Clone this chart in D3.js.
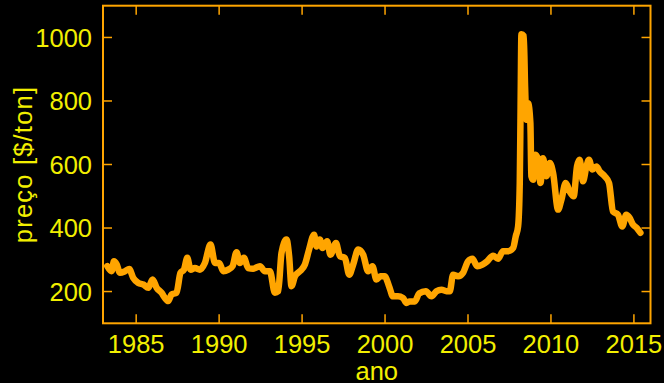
<!DOCTYPE html>
<html>
<head>
<meta charset="utf-8">
<script src="https://cdn.jsdelivr.net/npm/d3@7"></script>
<style>
html,body{margin:0;padding:0;background:#000;}
svg{display:block;}
text{font-family:"Liberation Sans",Arial,sans-serif;}
</style>
</head>
<body>
<svg id="chart" width="664" height="383"></svg>
<script>
const titleText = "(a) Arroz, preço internacional (Tailândia, US$)";
const xLabel = "ano";
const yLabel = "preço [$/ton]";
const xTicks = [1985, 1990, 1995, 2000, 2005, 2010, 2015];
const yTicks = [200, 400, 600, 800, 1000];

const years = [
 1983.26,1983.52,1983.66,1983.83,1984.02,1984.33,1984.58,1984.82,1985.13,1985.43,1985.73,1985.99,
 1986.23,1986.53,1986.73,1986.93,1987.13,1987.43,1987.67,1987.88,1988.08,1988.28,1988.54,1988.84,
 1989.14,1989.48,1989.75,1990.0,1990.25,1990.55,1990.81,1991.05,1991.25,1991.49,1991.75,1992.05,
 1992.46,1992.76,1993.06,1993.36,1993.56,1993.76,1994.06,1994.22,1994.36,1994.57,1994.87,1995.17,
 1995.42,1995.72,1995.87,1996.07,1996.23,1996.51,1996.71,1997.04,1997.28,1997.58,1997.84,1998.08,
 1998.38,1998.68,1998.98,1999.24,1999.48,1999.72,1999.98,2000.24,2000.48,2000.78,2001.08,2001.29,
 2001.49,2001.80,2002.05,2002.46,2002.80,2003.10,2003.40,2003.70,2003.90,2004.10,2004.40,2004.70,
 2005.0,2005.27,2005.55,2005.87,2006.15,2006.51,2006.81,2007.11,2007.41,2007.72,2007.88,2008.02,
 2008.12,2008.17,2008.22,2008.36,2008.44,2008.52,2008.62,2008.76,2008.82,2008.92,2009.07,2009.23,
 2009.37,2009.52,2009.73,2009.93,2010.13,2010.43,2010.63,2010.89,2011.13,2011.37,2011.57,2011.73,
 2011.93,2012.14,2012.29,2012.50,2012.74,2012.94,2013.24,2013.50,2013.74,2014.04,2014.30,2014.54,
 2014.74,2014.94,2015.18,2015.39
];
const prices = [
 280,264,295,285,259,264,271,243,227,222,212,238,
 212,196,180,170,191,196,259,269,306,269,274,269,
 290,348,290,290,264,269,280,324,290,306,274,272,
 280,264,264,196,201,322,364,311,217,248,264,285,
 332,379,342,364,337,358,316,353,311,306,253,285,
 332,316,264,280,238,248,248,217,185,185,180,164,
 169,169,194,201,185,201,206,201,201,253,248,259,
 295,303,280,285,295,313,303,327,327,337,374,405,
 542,780,1010,1005,846,741,793,730,563,552,631,615,
 542,620,563,605,573,458,489,542,515,500,594,615,
 547,594,615,584,594,578,563,542,452,442,405,442,
 432,411,400,385
];

const data = years.map((y,i)=>({year:y, price:prices[i]}));

const W = 664, H = 383;
const m = {left:103, right:13.5, top:5.7, bottom:59.7};
const pw = W - m.left - m.right, ph = H - m.top - m.bottom;
const textColor = "#f2ef00";
const lineColor = "#ffa500";

const svg = d3.select("#chart");
svg.append("rect").attr("width",W).attr("height",H).attr("fill","#000");

const x = d3.scaleLinear().domain([1983, 2016]).range([m.left, m.left+pw]);
const y = d3.scaleLinear().domain([100, 1100]).range([m.top+ph, m.top]);

// title (mostly off-canvas, as in the reference)
svg.append("text").attr("x", 380).attr("y", -5).attr("text-anchor","middle")
  .attr("fill", textColor).attr("font-size", 25.5).text(titleText);

const tickLen = 9;
const g = svg.append("g");
xTicks.forEach(t=>{
  g.append("line").attr("x1",x(t)).attr("x2",x(t)).attr("y1",y.range()[0]).attr("y2",y.range()[0]-tickLen)
    .attr("stroke",lineColor).attr("stroke-width",1.5);
  g.append("line").attr("x1",x(t)).attr("x2",x(t)).attr("y1",y.range()[1]).attr("y2",y.range()[1]+tickLen)
    .attr("stroke",lineColor).attr("stroke-width",1.5);
  g.append("text").attr("x",x(t)).attr("y",353).attr("text-anchor","middle")
    .attr("fill",textColor).attr("font-size",25.5).text(t);
});
yTicks.forEach(t=>{
  g.append("line").attr("x1",x.range()[0]).attr("x2",x.range()[0]+tickLen).attr("y1",y(t)).attr("y2",y(t))
    .attr("stroke",lineColor).attr("stroke-width",1.5);
  g.append("line").attr("x1",x.range()[1]).attr("x2",x.range()[1]-tickLen).attr("y1",y(t)).attr("y2",y(t))
    .attr("stroke",lineColor).attr("stroke-width",1.5);
  g.append("text").attr("x",92).attr("y",y(t)).attr("dy","0.36em").attr("text-anchor","end")
    .attr("fill",textColor).attr("font-size",25.5).text(t);
});

const line = d3.line().x(d=>x(d.year)).y(d=>y(d.price)).curve(d3.curveMonotoneX);
svg.append("path").datum(data).attr("d",line).attr("fill","none")
  .attr("stroke",lineColor).attr("stroke-width",6.5).attr("stroke-linejoin","round").attr("stroke-linecap","round");

svg.append("rect").attr("x",m.left).attr("y",m.top).attr("width",pw).attr("height",ph)
  .attr("fill","none").attr("stroke",lineColor).attr("stroke-width",2);

svg.append("text").attr("x", m.left+pw/2).attr("y", 380).attr("text-anchor","middle")
  .attr("fill",textColor).attr("font-size",25.5).text(xLabel);
svg.append("text").attr("transform",`translate(31.5,${m.top+ph/2}) rotate(-90)`).attr("text-anchor","middle")
  .attr("fill",textColor).attr("font-size",25.5).attr("letter-spacing","1.2px").text(yLabel);
</script>
</body>
</html>
